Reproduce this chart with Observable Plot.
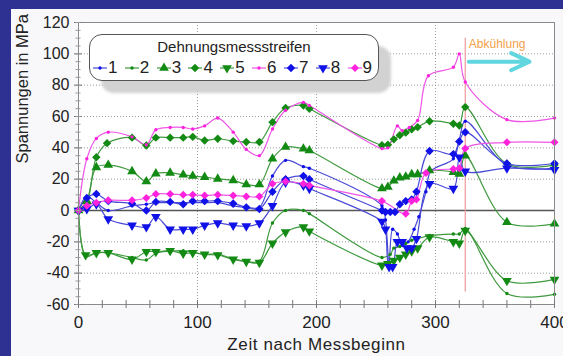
<!DOCTYPE html>
<html><head><meta charset="utf-8">
<script src="https://cdn.jsdelivr.net/npm/d3@7"></script>
<script src="https://cdn.jsdelivr.net/npm/@observablehq/plot@0.6"></script>
<style>
body{margin:0;background:#fff;}
#wrap{position:relative;width:563px;height:356px;overflow:hidden;background:#f8f8fa;font-family:"Liberation Sans",Arial,sans-serif;color:#222;}
#wrap svg{position:absolute;left:0;top:0;}
.bar{position:absolute;background:#2e3192;}
#legend{position:absolute;left:89px;top:34px;width:288px;height:45px;border:1.5px solid #555;border-radius:13px;background:#fff;box-shadow:12px 12px 3px #d2d2d2;}
#legend .lt{text-align:center;font-size:15px;margin-top:3px;line-height:17px;}
#legend .items{display:flex;justify-content:space-between;padding:0 6px 0 3px;margin-top:3px;font-size:17px;line-height:20px;}
#legend .it{display:flex;align-items:center;}
#legend svg{position:static;margin-right:1px;}
</style></head><body>
<div id="wrap"></div>
<script>
// ---- data ----
const t1 = [0,7,15,25,45,57,65,77,88,96,106,117,130,141,152,163,174,189,194,255,258,261,264,268,272,277,282,286,292,296,315,320,325,360,400];
const v1 = [0,9,5,0,3,4,5,5,5,5,5,5,3,2,2,22,32,28,27,3,-6,-33,-12,-15,-22,-20,-12,-4,12,25,33,45,57,29,27];
const t2 = [0,6,15,25,45,57,65,77,88,96,106,117,130,141,152,163,174,189,194,255,262,265,270,275,280,285,295,315,320,325,360,400];
const v2 = [0,-29.5,-27,-27,-30,-31.6,-27.4,-26,-25.7,-26.5,-28,-27.8,-30.9,-32.4,-32.4,-8,0,0,-2,-30,-28,-24,-23,-21,-19,-18,-16,-15,-15,-11.5,-53,-53.5];
const t3 = [0,7,15,25,45,57,65,77,88,96,106,117,130,141,152,163,174,189,194,255,260,265,270,275,280,285,295,315,320,325,360,400];
const v3 = [0,6,27.5,29,25,18.5,23.5,24,22.8,22,21.3,20.2,19.2,16.6,16.6,33,40.5,39.4,38.3,14,15,19,21,21.5,23,23,25.5,24.5,23.4,35,-7.5,-8.5];
const t4 = [0,7,15,24,45,57,65,77,88,96,106,117,130,141,152,163,174,189,194,255,260,265,270,275,280,285,295,315,320,325,360,400];
const v4 = [0,5,34,43,46.5,41.5,46.5,46.5,46.5,47,44.7,45.8,44.3,43.7,43.7,56.4,65.4,67,65,41.6,42,45.4,48,49.7,51.8,53.2,57,55.4,54.3,66,29.8,29];
const t5 = [0,6,15,25,45,57,65,77,88,96,106,117,130,141,152,163,174,189,194,255,260,265,270,275,280,285,295,315,320,325,360,400];
const v5 = [0,-28.4,-27,-27,-31.2,-26.3,-26.3,-25.7,-27.4,-27,-28,-28.4,-31.2,-32.6,-33.3,-21,-13.8,-10.6,-13.2,-35,-34,-32,-30,-28,-26,-24,-17,-20,-21,-12.8,-44.8,-44];
const t6 = [0,7,15,25,45,57,65,77,88,96,106,117,130,141,152,163,174,189,194,255,260,268,272,278,285,294,315,320,325,360,400];
const v6 = [0,33,46,50,47,42,51.5,53,53,52,54,59,50,39,35,52,64,69,67,39.5,40,54,51,53,57.5,86,91.5,100,82,58,59];
const t7 = [0,7,15,25,45,57,65,77,88,96,106,117,130,141,152,163,174,189,194,255,258,262,266,270,275,280,284,295,315,320,325,360,400];
const v7 = [0,8,10.5,6,4.5,0,5.5,5.5,4,6,6,6,4.5,2,1,12,20,22,20,0,-1,-1,-1,4,6,7,12,38,36,44,50,30,30];
const t8 = [0,7,15,25,45,57,65,77,88,96,106,117,130,141,152,163,174,189,194,255,258,261,264,268,272,276,280,284,295,315,320,325,360,400];
const v8 = [0,1,4,-5.5,-9.5,-10.5,-4,-12,-12,-12,-9.5,-8,-9.5,-10,-8,3,18,16,14,-7,-12,-36,-36,-20,-20,-24,-24,-18,17,14,34,25,27,26];
const t9 = [0,7,15,25,45,57,65,77,88,96,106,117,130,141,152,163,174,189,194,255,275,280,284,292,315,320,325,360,400];
const v9 = [0,3,5,6.5,6.5,8,10.5,10.5,10,10,9.6,10,9.6,9,9,17,18.5,17,16,6,-2,6,7,24,26.5,27,39.5,43.5,43.5];

const seriesNames = ["1","2","3","4","5","6","7","8","9"];
const xMajor = [0,100,200,300,400];
const xMinor = d3.range(0,401,20);
const yMajor = [-60,-40,-20,0,20,40,60,80,100,120];
const yMinor = d3.range(-60,121,5);
const xGrid = [100,200,300];
const yGrid = [-40,-20,20,40,60,80,100];
const legendTitle = "Dehnungsmessstreifen";
const xTitle = "Zeit nach Messbeginn";
const yTitle = "Spannungen in MPa";
const coolLine = [{x:325, y1:-52, y2:110}];
const coolText = [{x:328, y:106, label:"Abkühlung"}];
const coolArrow = [{x1:328, x2:379, y:95}];

// ---- styles ----
const triangleDown = {draw(ctx, size){
  const y = -Math.sqrt(size / (Math.sqrt(3) * 3)), s3 = Math.sqrt(3);
  ctx.moveTo(0, -y * 2); ctx.lineTo(-s3 * y, y); ctx.lineTo(s3 * y, y); ctx.closePath();
}};
const BL = {line:"#4a4ad8", mark:"#1010e8"}, GR = {line:"#3f9a3f", mark:"#138a13"}, MA = {line:"#ee55e6", mark:"#ff22dd"};
const styles = [
  {c:BL, sym:d3.symbolCircle, r:1.7},
  {c:GR, sym:d3.symbolCircle, r:1.7},
  {c:GR, sym:d3.symbolTriangle, r:3.6},
  {c:GR, sym:d3.symbolDiamond2, r:3.8},
  {c:GR, sym:triangleDown, r:3.6},
  {c:MA, sym:d3.symbolCircle, r:1.7},
  {c:BL, sym:d3.symbolDiamond2, r:3.8},
  {c:BL, sym:triangleDown, r:3.6},
  {c:MA, sym:d3.symbolDiamond2, r:3.6}
];
const times = [t1,t2,t3,t4,t5,t6,t7,t8,t9];
const vals = [v1,v2,v3,v4,v5,v6,v7,v8,v9];
const series = seriesNames.map((n,i)=>({name:n, data: times[i].map((t,j)=>({t, v: vals[i][j]})), ...styles[i]}));

const marks = [
  Plot.frame({fill:"white"}),
  Plot.gridX(xGrid, {stroke:"#9a9a9a", strokeOpacity:1, strokeDasharray:"1,2"}),
  Plot.gridY(yGrid, {stroke:"#9a9a9a", strokeOpacity:1, strokeDasharray:"1,2"}),
  Plot.ruleY([0], {stroke:"#555", strokeWidth:1.6}),
  Plot.ruleX(coolLine, {x:"x", y1:"y1", y2:"y2", stroke:"#ee9a9a", strokeWidth:1.2})
];
for (const s of series) {
  marks.push(Plot.line(s.data, {x:"t", y:"v", stroke:s.c.line, strokeWidth:1.2, curve:"catmull-rom"}));
}
for (const s of series) {
  marks.push(Plot.dot(s.data, {x:"t", y:"v", symbol:s.sym, r:s.r, fill:s.c.mark, stroke:"none"}));
}
marks.push(
  Plot.arrow(coolArrow, {x1:"x1", x2:"x2", y1:"y", y2:"y", stroke:"#62d6df", strokeWidth:4, headLength:9, headAngle:50}),
  Plot.text(coolText, {x:"x", y:"y", text:"label", textAnchor:"start", fill:"#f2a048", fontSize:12}),
  Plot.frame({stroke:"#8a8a8a"}),
  Plot.axisY(yMajor, {tickSize:0, tickPadding:9, fontSize:16, tickFormat:d=>String(d), fill:"#222"}),
  Plot.axisY(yMajor, {text:null, tickSize:8, dx:4, stroke:"#777"}),
  Plot.axisY(yMinor, {text:null, tickSize:5, dx:2.5, stroke:"#999"}),
  Plot.axisX(xMajor, {tickSize:0, tickPadding:11, fontSize:17, tickFormat:d=>String(d), fill:"#222"}),
  Plot.axisX(xMinor, {text:null, tickSize:8, dy:-4, stroke:"#777"}),
  Plot.text([xTitle], {frameAnchor:"bottom", dy:45, fontSize:17, fill:"#222", text:d=>d}),
  Plot.text([yTitle], {frameAnchor:"left", dx:-56, rotate:-90, fontSize:16.5, fill:"#222", text:d=>d})
);

const chart = Plot.plot({
  width:563, height:356,
  marginLeft:78, marginRight:9, marginTop:22, marginBottom:52,
  style:{background:"transparent", fontFamily:"'Liberation Sans', Arial, sans-serif", overflow:"visible"},
  x:{domain:[0,400]},
  y:{domain:[-60,120]},
  marks
});
const wrap = document.getElementById("wrap");
wrap.appendChild(chart);
d3.select(chart).selectAll("text").filter(function(){ return this.textContent === xTitle; }).attr("letter-spacing", "0.6");

// legend
const lg = document.createElement("div"); lg.id = "legend";
const lt = document.createElement("div"); lt.className = "lt"; lt.textContent = legendTitle; lg.appendChild(lt);
const items = document.createElement("div"); items.className = "items";
for (const s of series) {
  const it = document.createElement("span"); it.className = "it";
  const sv = d3.create("svg").attr("width",14).attr("height",12);
  sv.append("line").attr("x1",0).attr("x2",14).attr("y1",6).attr("y2",6).attr("stroke",s.c.line).attr("stroke-width",1.2);
  sv.append("path").attr("transform","translate(7,6)").attr("d", d3.symbol(s.sym, Math.PI*s.r*s.r)()).attr("fill",s.c.mark);
  it.appendChild(sv.node());
  const tx = document.createElement("span"); tx.textContent = s.name; it.appendChild(tx);
  items.appendChild(it);
}
lg.appendChild(items);
wrap.appendChild(lg);

for (const [l,t,w,h] of [[0,0,563,9],[0,0,11,356]]) {
  const b = document.createElement("div"); b.className = "bar";
  Object.assign(b.style, {left:l+"px", top:t+"px", width:w+"px", height:h+"px"});
  wrap.appendChild(b);
}
</script>
</body></html>
